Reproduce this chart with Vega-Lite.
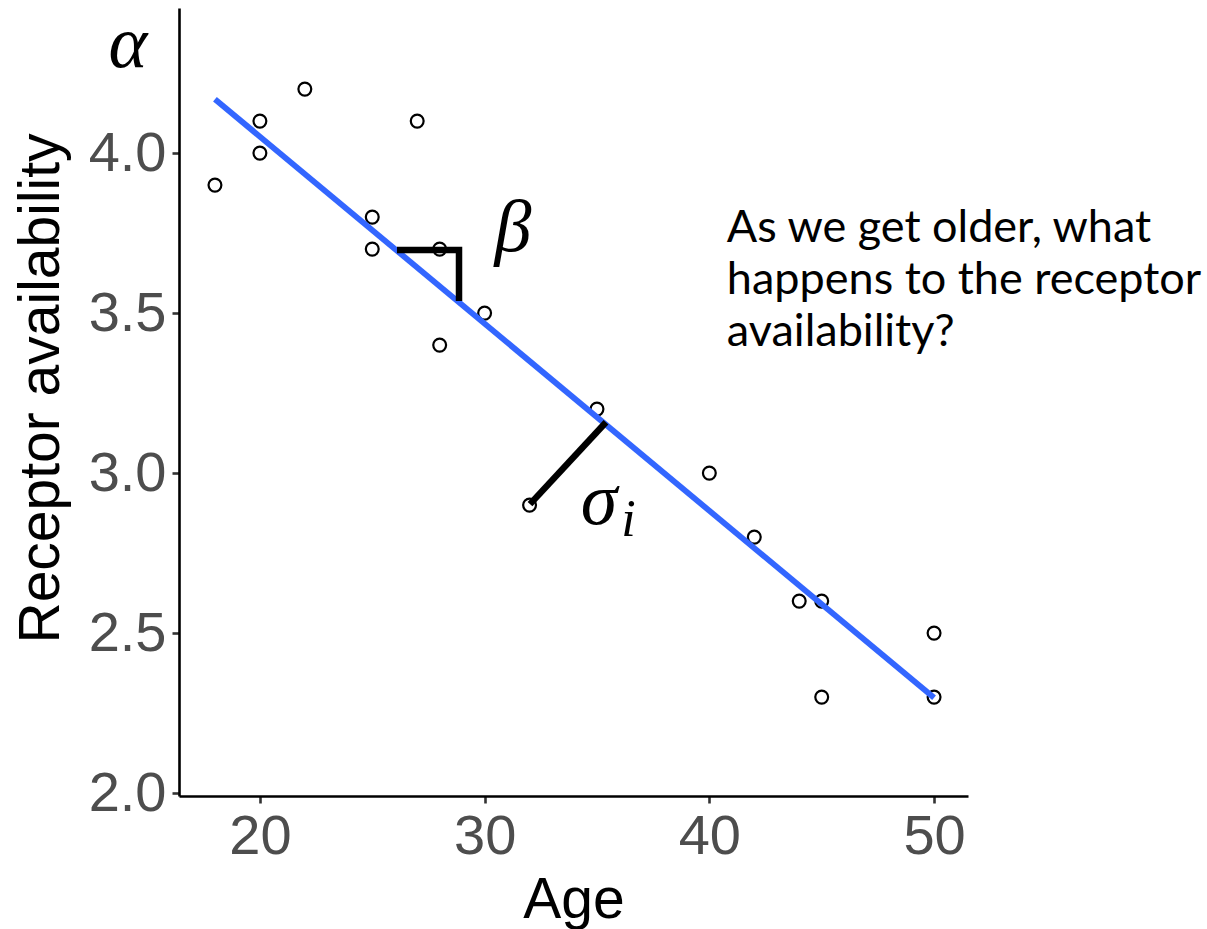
{
  "$schema": "https://vega.github.io/schema/vega-lite/v6.json",
  "width": 789,
  "height": 788,
  "autosize": {"type": "none"},
  "padding": {"left": 179, "top": 8, "right": 239, "bottom": 133},
  "background": "white",
  "config": {
    "view": {"stroke": null},
    "axis": {
      "domainColor": "black",
      "domainWidth": 2.6,
      "tickColor": "#333333",
      "tickWidth": 2.6,
      "tickSize": 7,
      "grid": false,
      "labelFont": "Liberation Sans",
      "labelFontSize": 56,
      "labelColor": "#4D4D4D",
      "titleFont": "Liberation Sans",
      "titleFontSize": 57,
      "titleFontWeight": "normal",
      "titleColor": "black"
    }
  },
  "datasets": {
    "obs": [
      {"age": 18, "rec": 3.9}, {"age": 20, "rec": 4.1}, {"age": 20, "rec": 4.0},
      {"age": 22, "rec": 4.2}, {"age": 25, "rec": 3.8}, {"age": 25, "rec": 3.7},
      {"age": 27, "rec": 4.1}, {"age": 28, "rec": 3.7}, {"age": 28, "rec": 3.4},
      {"age": 30, "rec": 3.5}, {"age": 32, "rec": 2.9}, {"age": 35, "rec": 3.2},
      {"age": 40, "rec": 3.0}, {"age": 42, "rec": 2.8}, {"age": 44, "rec": 2.6},
      {"age": 45, "rec": 2.6}, {"age": 45, "rec": 2.3}, {"age": 50, "rec": 2.5},
      {"age": 50, "rec": 2.3}
    ],
    "marks": [
      {"seg": "beta", "ord": 1, "age": 26.1, "rec": 3.697},
      {"seg": "beta", "ord": 2, "age": 28.86, "rec": 3.697},
      {"seg": "beta", "ord": 3, "age": 28.86, "rec": 3.5375},
      {"seg": "sigma", "ord": 1, "age": 32.02, "rec": 2.903},
      {"seg": "sigma", "ord": 2, "age": 35.4, "rec": 3.159}
    ],
    "greek": [
      {"sym": "α", "age": 14.13, "rec": 4.269},
      {"sym": "β", "age": 31.26, "rec": 3.694},
      {"sym": "σ", "age": 35.09, "rec": 2.841}
    ],
    "sub": [{"sym": "i", "age": 36.4, "rec": 2.803}],
    "note": [{"txt": "As we get older, what\nhappens to the receptor\navailability?", "age": 40.78, "rec": 3.722}]
  },
  "layer": [
    {
      "data": {"name": "obs"},
      "mark": {"type": "point", "shape": "circle", "filled": false, "stroke": "black", "strokeWidth": 2.2, "size": 165, "opacity": 1},
      "encoding": {
        "x": {"field": "age", "type": "quantitative", "scale": {"domain": [16.4, 51.51], "nice": false, "zero": false},
              "axis": {"values": [20, 30, 40, 50], "title": "Age", "labelPadding": 6, "titlePadding": 8}},
        "y": {"field": "rec", "type": "quantitative", "scale": {"domain": [1.991, 4.4535], "nice": false, "zero": false},
              "axis": {"values": [2, 2.5, 3, 3.5, 4], "format": ".1f", "title": "Receptor availability", "labelPadding": 6, "titlePadding": 18, "titleY": 380}}
      }
    },
    {
      "data": {"name": "obs"},
      "transform": [{"regression": "rec", "on": "age", "method": "linear"}],
      "mark": {"type": "line", "color": "#3366FF", "strokeWidth": 5.8},
      "encoding": {
        "x": {"field": "age", "type": "quantitative"},
        "y": {"field": "rec", "type": "quantitative"}
      }
    },
    {
      "data": {"name": "marks"},
      "mark": {"type": "line", "color": "black", "strokeWidth": 6.5, "strokeCap": "butt", "strokeJoin": "miter"},
      "encoding": {
        "x": {"field": "age", "type": "quantitative"},
        "y": {"field": "rec", "type": "quantitative"},
        "detail": {"field": "seg"},
        "order": {"field": "ord", "type": "quantitative"}
      }
    },
    {
      "data": {"name": "greek"},
      "mark": {"type": "text", "font": "Liberation Serif", "fontStyle": "italic", "fontSize": 74, "align": "center", "baseline": "alphabetic", "color": "black", "clip": false},
      "encoding": {
        "x": {"field": "age", "type": "quantitative"},
        "y": {"field": "rec", "type": "quantitative"},
        "text": {"field": "sym"}
      }
    },
    {
      "data": {"name": "sub"},
      "mark": {"type": "text", "font": "Liberation Serif", "fontStyle": "italic", "fontSize": 52, "align": "center", "baseline": "alphabetic", "color": "black"},
      "encoding": {
        "x": {"field": "age", "type": "quantitative"},
        "y": {"field": "rec", "type": "quantitative"},
        "text": {"field": "sym"}
      }
    },
    {
      "data": {"name": "note"},
      "mark": {"type": "text", "font": "Lato", "fontSize": 45, "align": "left", "baseline": "alphabetic", "lineBreak": "\n", "lineHeight": 52, "color": "black"},
      "encoding": {
        "x": {"field": "age", "type": "quantitative"},
        "y": {"field": "rec", "type": "quantitative"},
        "text": {"field": "txt"}
      }
    }
  ]
}
